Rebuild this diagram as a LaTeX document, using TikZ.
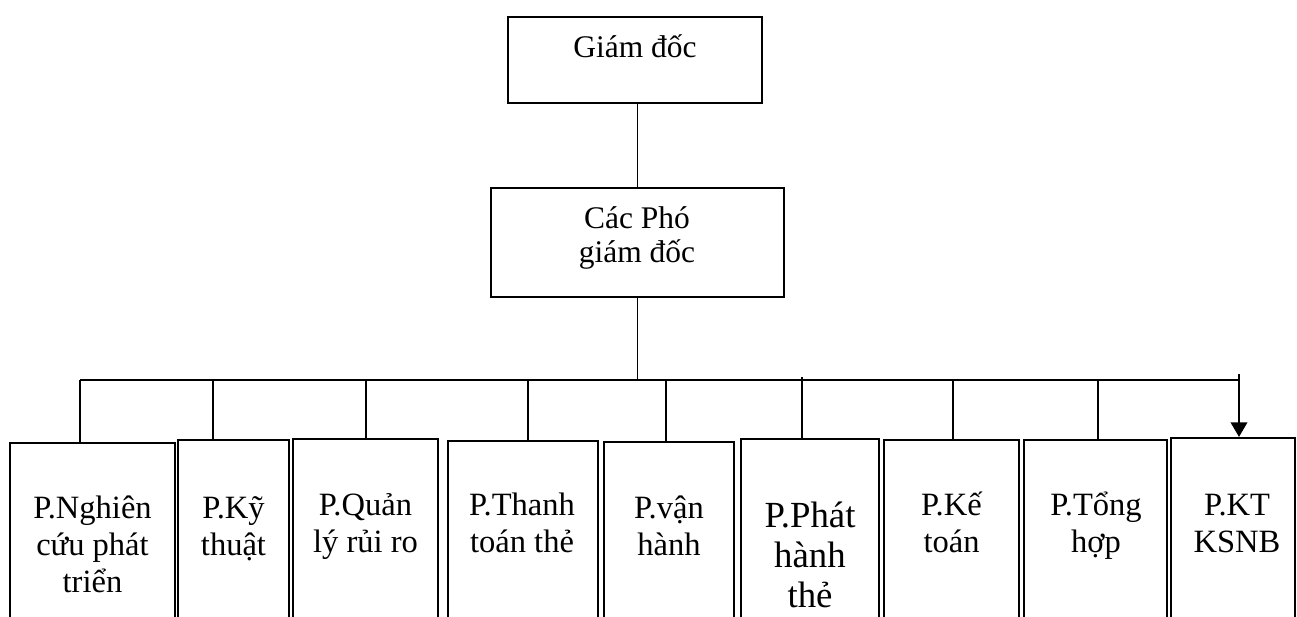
\documentclass[tikz,border=0pt]{standalone}
\usepackage{fontspec}
\setmainfont{Liberation Serif}
\usetikzlibrary{fit,arrows.meta}
% stacked, centred lines whose baseline is that of the first line
\newcommand\stackedlines[1]{\vtop{\halign{\hfil##\hfil\cr#1\crcr}}}
\begin{document}
\begin{tikzpicture}[x=0.75pt,y=-0.75pt,
  box/.style={draw=black,line width=1.6pt,inner sep=0pt},
  wire/.style={draw=black,line width=1.4pt},
  toplbl/.style={inner sep=0pt,anchor=base,font=\fontsize{23.6}{26.2}\selectfont},
  lbl/.style={inner sep=0pt,anchor=base,font=\fontsize{24.4}{27.75}\selectfont},
  biglbl/.style={inner sep=0pt,anchor=base,font=\fontsize{27.6}{30}\selectfont}]
\path[use as bounding box,clip] (0,0) rectangle (1297,617);
\fill[white] (0,0) rectangle (1297,617);

% management
\node[box,fit={(508,17)(762,103)}] (gd) {};
\node[toplbl] (gdt) at (635,58) {Giám đốc};
\node[box,fit={(491,188)(784,297)}] (vp) {};
\node[toplbl] (vpt) at (637,228) {\stackedlines{Các Phó\cr giám đốc}};

% departments (open at the bottom edge)
\node[box,fit={(10,443)(175,640)}] (b1) {};
\node[box,fit={(178,440)(289,640)}] (b2) {};
\node[box,fit={(293,439)(438,640)}] (b3) {};
\node[box,fit={(448,441)(598,640)}] (b4) {};
\node[box,fit={(604,442)(734,640)}] (b5) {};
\node[box,fit={(741,439)(879,640)}] (b6) {};
\node[box,fit={(884,440)(1019,640)}] (b7) {};
\node[box,fit={(1024,440)(1167,640)}] (b8) {};
\node[box,fit={(1171,438)(1295,640)}] (b9) {};

\node[lbl] (t1) at (92.5,518) {\stackedlines{P.Nghiên\cr cứu phát\cr triển}};
\node[lbl] (t2) at (233.5,518) {\stackedlines{P.Kỹ\cr thuật}};
\node[lbl] (t3) at (365.5,515) {\stackedlines{P.Quản\cr lý rủi ro}};
\node[lbl] (t4) at (522,515) {\stackedlines{P.Thanh\cr toán thẻ}};
\node[lbl] (t5) at (669,518) {\stackedlines{P.vận\cr hành}};
\node[biglbl] (t6) at (810,527) {\stackedlines{P.Phát\cr hành\cr thẻ}};
\node[lbl] (t7) at (951.5,515) {\stackedlines{P.Kế\cr toán}};
\node[lbl] (t8) at (1096,515) {\stackedlines{P.Tổng\cr hợp}};
\node[lbl] (t9) at (1237,515) {\stackedlines{P.KT\cr KSNB}};

% connectors
\draw[wire] (vp.north) -- (vp.north |- gd.south);
\coordinate (busL) at (80,380);
\coordinate (busR) at (1239,380);
\draw[wire] (vp.south) -- (vp.south |- busL);
\draw[wire] (busL) -- (busR);
\coordinate (d1) at (80,380);
\coordinate (d2) at (213,380);
\coordinate (d3) at (366,380);
\coordinate (d4) at (528,380);
\coordinate (d5) at (666,380);
\coordinate (d6) at (802,377);
\coordinate (d7) at (953,380);
\coordinate (d8) at (1098,380);
\coordinate (d9) at (1239,374);
\foreach \i in {1,...,8}{
  \draw[wire] (d\i) -- (d\i |- b\i.north);
}
\draw[wire,-{Triangle[width=12.5pt,length=11pt]}] (d9) -- (d9 |- b9.north);
\end{tikzpicture}
\end{document}
